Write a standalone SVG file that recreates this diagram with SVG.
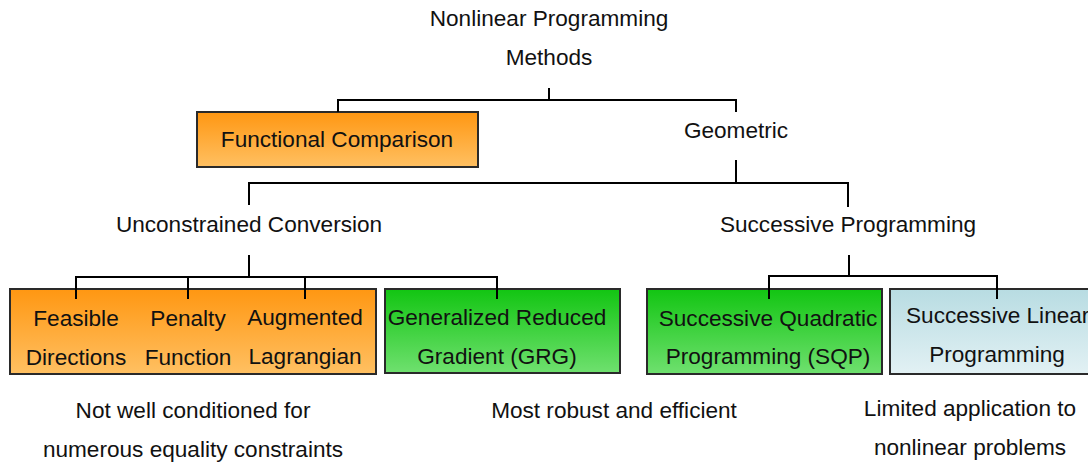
<svg xmlns="http://www.w3.org/2000/svg" width="1088" height="462" viewBox="0 0 1088 462">
  <style>
    text { font-family: "Liberation Sans", Arial, sans-serif; font-size: 22.6px; fill: #111; text-anchor: middle; }
    .box { stroke: #2a2a2a; stroke-width: 2; }
    .link { fill: none; stroke: #000; stroke-width: 2; }
  </style>
  <defs>
    <linearGradient id="gOrange" x1="0" y1="0" x2="0" y2="1">
      <stop offset="0" stop-color="#ff9712"/>
      <stop offset="1" stop-color="#ffc062"/>
    </linearGradient>
    <linearGradient id="gGreen" x1="0" y1="0" x2="0" y2="1">
      <stop offset="0" stop-color="#12c512"/>
      <stop offset="1" stop-color="#6fe06f"/>
    </linearGradient>
    <linearGradient id="gBlue" x1="0" y1="0" x2="0" y2="1">
      <stop offset="0" stop-color="#b8dce2"/>
      <stop offset="1" stop-color="#e2f1f4"/>
    </linearGradient>
  </defs>

  <rect width="1088" height="462" fill="#fff"/>

  <g id="root">
    <text x="549" y="26">Nonlinear Programming</text>
    <text x="549" y="65">Methods</text>
  </g>

  <g id="functional">
    <rect class="box" x="197" y="112" width="281" height="55" fill="url(#gOrange)"/>
    <text x="337" y="147">Functional Comparison</text>
  </g>

  <g id="geometric">
    <text x="736" y="138">Geometric</text>
  </g>

  <g id="unconstrained">
    <text x="249" y="232">Unconstrained Conversion</text>
  </g>

  <g id="successive">
    <text x="848" y="232">Successive Programming</text>
  </g>

  <g id="penalty-group">
    <rect class="box" x="10" y="289" width="366" height="85" fill="url(#gOrange)"/>
    <text x="76" y="326">Feasible</text>
    <text x="76" y="365">Directions</text>
    <text x="188" y="326">Penalty</text>
    <text x="188" y="365">Function</text>
    <text x="305" y="325">Augmented</text>
    <text x="305" y="364">Lagrangian</text>
  </g>

  <g id="grg">
    <rect class="box" x="385" y="289" width="235" height="84" fill="url(#gGreen)"/>
    <text x="497" y="325">Generalized Reduced</text>
    <text x="497" y="364">Gradient (GRG)</text>
  </g>

  <g id="sqp">
    <rect class="box" x="647" y="289" width="235" height="85" fill="url(#gGreen)"/>
    <text x="768" y="326">Successive Quadratic</text>
    <text x="768" y="364">Programming (SQP)</text>
  </g>

  <g id="slp">
    <rect class="box" x="890" y="289" width="210" height="85" fill="url(#gBlue)"/>
    <text x="906" y="323" style="text-anchor:start">Successive Linear</text>
    <text x="997" y="362">Programming</text>
  </g>

  <g id="notes">
    <text x="193" y="418">Not well conditioned for</text>
    <text x="193" y="457">numerous equality constraints</text>
    <text x="614" y="418">Most robust and efficient</text>
    <text x="970" y="416">Limited application to</text>
    <text x="970" y="455">nonlinear problems</text>
  </g>

  <!-- tree connectors, drawn on top so the drops reach into the boxes -->
  <g id="connectors">
    <path class="link" d="M549,88 V100 M338,112 V100 H736 V112"/>
    <path class="link" d="M736,160 V183 M249,205 V183 H848 V207"/>
    <path class="link" d="M249,255 V277 M76,299 V277 H497 V299 M188,277 V299 M305,277 V299"/>
    <path class="link" d="M849,255 V276 M769,299 V276 H997 V299"/>
  </g>
</svg>
